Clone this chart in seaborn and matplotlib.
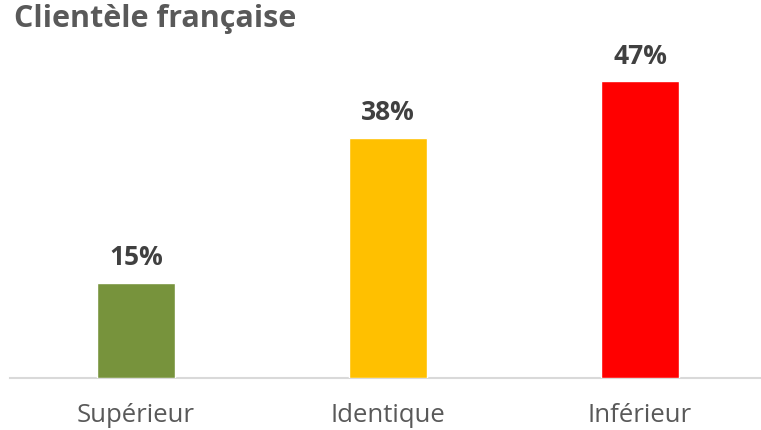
import matplotlib
matplotlib.use("Agg")
import matplotlib.pyplot as plt
import seaborn as sns
import pandas as pd

categories = ["Supérieur", "Identique", "Inférieur"]
values = [15, 38, 47]
colors = ["#77933C", "#FFC000", "#FF0000"]
title = "Clientèle française"

sns.set_theme(style="white")
plt.rcParams['font.family'] = ['Open Sans', 'DejaVu Sans']

df = pd.DataFrame({"cat": categories, "val": values})

fig = plt.figure(figsize=(7.61, 4.31), dpi=100)
W, H = 761, 431
ax = fig.add_axes([10 / W, (H - 378.5) / H, 756 / W, (378.5 - 32) / H])

sns.barplot(data=df, x="cat", y="val", hue="cat", palette=colors, width=0.31,
            legend=False, ax=ax, saturation=1)

ax.set_xlim(-0.5, 2.5)
ax.set_ylim(0, 55)
for i, v in enumerate(values):
    ax.annotate(f"{v}%", (i, v), xytext=(0, 13.5), textcoords="offset points",
                ha="center", va="baseline", fontsize=19, fontweight="bold", color="#404040")

ax.set_xlabel("")
ax.set_ylabel("")
ax.set_yticks([])
ax.tick_params(axis="x", length=0, pad=18, labelsize=18.5, labelcolor="#595959")
for s in ["top", "right", "left"]:
    ax.spines[s].set_visible(False)
ax.spines["bottom"].set_color("#D9D9D9")
ax.spines["bottom"].set_linewidth(1.5)
ax.spines["bottom"].set_zorder(0)

fig.text(14 / W, 1 - 27 / H, title, ha="left", va="baseline", fontsize=22,
         fontweight="bold", color="#595959")

fig.savefig("out.png", dpi=100)
